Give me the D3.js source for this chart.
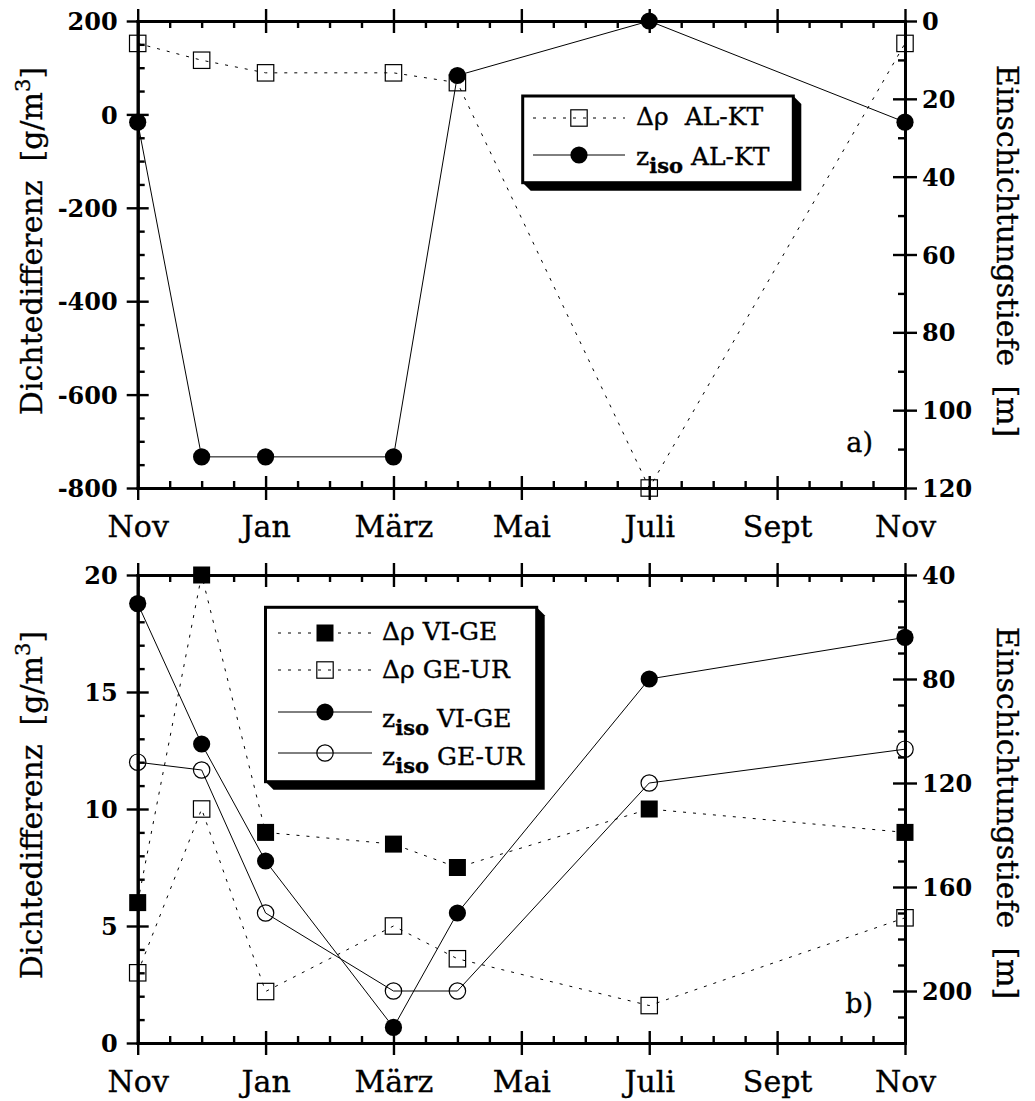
<!DOCTYPE html>
<html>
<head>
<meta charset="utf-8">
<script src="https://cdn.jsdelivr.net/npm/d3@7"></script>
<style>
  body { margin: 0; background: #fff; }
  text { font-family: "DejaVu Serif", serif; fill: #000; white-space: pre; }
  .heavy { stroke: #000; stroke-width: 0.35px; }
</style>
</head>
<body>
<svg id="chart" width="1035" height="1101"></svg>
<script>
// Months counted from November (0) to the following November (12)
const monthTicks = [0, 2, 4, 6, 8, 10, 12];
const monthLabels = ["Nov", "Jan", "März", "Mai", "Juli", "Sept", "Nov"];
const sampleMonths = [0, 1, 2, 4, 5, 8, 12];

// Panel a): AL-KT
const rhoALKT = [152, 116, 89, 89, 68, -800, 152];     // Dichtedifferenz [g/m3]
const zisoALKT = [26, 112, 112, 112, 14, 0, 26];        // Einschichtungstiefe [m]

// Panel b): VI-GE and GE-UR
const rhoVIGE = [6, 20, 9, 8.5, 7.5, 10, 9];
const rhoGEUR = [3, 10, 2.2, 5, 3.6, 1.6, 5.35];
const zisoVIGE = [51, 105, 150, 214, 170, 80, 64];
const zisoGEUR = [112, 115, 170, 200, 200, 120, 107];

const leftTicksA = [-800, -600, -400, -200, 0, 200];
const rightTicksA = [0, 20, 40, 60, 80, 100, 120];
const leftTicksB = [0, 5, 10, 15, 20];
const rightTicksB = [40, 80, 120, 160, 200];

const svg = d3.select("#chart");
const X0 = 137.7, X1 = 905;
const x = d3.scaleLinear().domain([0, 12]).range([X0, X1]);
const plain = d => String(d);   // hyphen-minus, as in the printed figure

function styleAxis(g) {
  g.select(".domain").attr("stroke", "#000").attr("stroke-width", 3).attr("stroke-linecap", "square");
  g.selectAll(".tick line").attr("stroke", "#000").attr("stroke-width", 2.4);
}

function minorTicks(lo, hi, step, majors) {
  return d3.range(lo, hi + step / 2, step).filter(v => !majors.some(m => Math.abs(m - v) < 1e-9));
}

function drawMarker(g, type, cx, cy) {
  if (type === "filledSquare") {
    g.append("rect").attr("x", cx - 8.5).attr("y", cy - 8.5).attr("width", 17).attr("height", 17).attr("fill", "#000");
  } else if (type === "openSquare") {
    g.append("rect").attr("x", cx - 8.2).attr("y", cy - 8.2).attr("width", 16.4).attr("height", 16.4)
      .attr("fill", "none").attr("stroke", "#000").attr("stroke-width", 1.2);
  } else if (type === "filledCircle") {
    g.append("circle").attr("cx", cx).attr("cy", cy).attr("r", 8.6).attr("fill", "#000");
  } else {
    g.append("circle").attr("cx", cx).attr("cy", cy).attr("r", 8.2).attr("fill", "none")
      .attr("stroke", "#000").attr("stroke-width", 1.2);
  }
}

function drawSeries(g, values, yScale, type, dashed) {
  const pts = sampleMonths.map((m, i) => [x(m), yScale(values[i])]);
  g.append("path").attr("d", d3.line()(pts)).attr("fill", "none").attr("stroke", "#000")
    .attr("stroke-width", 1).attr("stroke-dasharray", dashed ? "3,7" : null);
  pts.forEach(p => drawMarker(g, type, p[0], p[1]));
}

function drawPanel(cfg) {
  const g = svg.append("g");
  const yL = d3.scaleLinear().domain(cfg.leftDomain).range([cfg.bottom, cfg.top]);
  const yR = d3.scaleLinear().domain(cfg.rightDomain).range([cfg.top, cfg.bottom]);
  const xMinor = minorTicks(0, 12, 0.5, monthTicks);

  // bottom axis with month names
  const gb = g.append("g").attr("transform", `translate(0,${cfg.bottom})`);
  gb.call(d3.axisBottom(x).tickValues(monthTicks).tickSize(12).tickSizeOuter(0)
    .tickFormat((d, i) => monthLabels[i]));
  gb.selectAll(".tick line").attr("y1", -12);
  gb.selectAll(".tick text").attr("y", 49).attr("dy", 0).attr("class", "heavy")
    .style("font-family", "DejaVu Serif").style("font-size", "30px");
  styleAxis(gb);
  const gbm = g.append("g").attr("transform", `translate(0,${cfg.bottom})`);
  gbm.call(d3.axisBottom(x).tickValues(xMinor).tickSize(-7).tickSizeOuter(0).tickFormat(""));
  styleAxis(gbm);

  // top axis
  const gt = g.append("g").attr("transform", `translate(0,${cfg.top})`);
  gt.call(d3.axisTop(x).tickValues(monthTicks).tickSize(12).tickSizeOuter(0).tickFormat(""));
  gt.selectAll(".tick line").attr("y1", 12);
  styleAxis(gt);
  const gtm = g.append("g").attr("transform", `translate(0,${cfg.top})`);
  gtm.call(d3.axisTop(x).tickValues(xMinor).tickSize(-7).tickSizeOuter(0).tickFormat(""));
  styleAxis(gtm);

  // left axis: Dichtedifferenz
  const gl = g.append("g").attr("transform", `translate(${X0},0)`);
  gl.call(d3.axisLeft(yL).tickValues(cfg.leftTicks).tickSize(11).tickSizeOuter(0).tickPadding(9).tickFormat(plain));
  gl.selectAll(".tick line").attr("x1", 11);
  gl.selectAll(".tick text").style("font-family", "DejaVu Serif").style("font-size", "24px")
    .style("font-weight", "bold").attr("dy", "0.36em");
  styleAxis(gl);
  const glm = g.append("g").attr("transform", `translate(${X0},0)`);
  glm.call(d3.axisLeft(yL).tickValues(minorTicks(cfg.leftDomain[0], cfg.leftDomain[1], cfg.leftMinor, cfg.leftTicks))
    .tickSize(-7).tickSizeOuter(0).tickFormat(""));
  styleAxis(glm);

  // right axis: Einschichtungstiefe
  const gr = g.append("g").attr("transform", `translate(${X1},0)`);
  gr.call(d3.axisRight(yR).tickValues(cfg.rightTicks).tickSize(12).tickSizeOuter(0).tickPadding(5).tickFormat(plain));
  gr.selectAll(".tick line").attr("x1", -12);
  gr.selectAll(".tick text").style("font-family", "DejaVu Serif").style("font-size", "24px")
    .style("font-weight", "bold").attr("dy", "0.36em");
  styleAxis(gr);
  const grm = g.append("g").attr("transform", `translate(${X1},0)`);
  grm.call(d3.axisRight(yR).tickValues(minorTicks(cfg.rightDomain[0], cfg.rightDomain[1], 10, cfg.rightTicks))
    .tickSize(-7).tickSizeOuter(0).tickFormat(""));
  styleAxis(grm);

  // axis titles
  const lt = g.append("text").attr("class", "heavy").attr("transform", `translate(42,${cfg.leftTitleY}) rotate(-90)`)
    .attr("text-anchor", "middle").style("font-size", "30px");
  lt.append("tspan").text("Dichtedifferenz  [g/m");
  lt.append("tspan").attr("dy", -12).style("font-size", "21px").text("3");
  lt.append("tspan").attr("dy", 12).text("]");
  g.append("text").attr("class", "heavy").attr("transform", `translate(997,${cfg.rightTitleY}) rotate(90)`)
    .attr("text-anchor", "middle").style("font-size", "30px").text("Einschichtungstiefe  [m]");

  // panel letter
  g.append("text").attr("class", "heavy").attr("x", 873).attr("y", cfg.letterY).attr("text-anchor", "end")
    .style("font-size", "27px").text(cfg.letter);

  // data
  cfg.series.forEach(s => drawSeries(g, s.values, s.axis === "left" ? yL : yR, s.marker, s.dashed));

  // legend box with extruded shadow
  const L = cfg.legend;
  const lg = g.append("g");
  const d = 8;
  lg.append("path").attr("fill", "#000")
    .attr("d", `M${L.x0},${L.y1} L${L.x0 + d},${L.y1 + d} L${L.x1 + d},${L.y1 + d} L${L.x1 + d},${L.y0 + d} L${L.x1},${L.y0} Z`);
  lg.append("rect").attr("x", L.x0).attr("y", L.y0).attr("width", L.x1 - L.x0).attr("height", L.y1 - L.y0)
    .attr("fill", "#fff").attr("stroke", "#000").attr("stroke-width", 3);
  cfg.series.forEach((s, i) => {
    const row = L.rows[i];
    lg.append("line").attr("x1", L.lineX0).attr("x2", L.lineX1).attr("y1", row.line).attr("y2", row.line)
      .attr("stroke", "#000").attr("stroke-width", 1).attr("stroke-dasharray", s.dashed ? "3,7" : null);
    drawMarker(lg, s.marker, (L.lineX0 + L.lineX1) / 2, row.line);
    const t = lg.append("text").attr("class", "heavy").attr("x", L.textX).attr("y", row.text).style("font-size", "25px");
    if (s.kind === "rho") {
      t.text(s.label);
    } else {
      t.append("tspan").text("z");
      t.append("tspan").attr("dy", 8).style("font-size", "21px").style("font-weight", "bold").text("iso");
      t.append("tspan").attr("dy", -8).text(s.label);
    }
  });
}

drawPanel({
  top: 21, bottom: 488,
  leftDomain: [-800, 200], leftTicks: leftTicksA, leftMinor: 50,
  rightDomain: [0, 120], rightTicks: rightTicksA,
  leftTitleY: 241, rightTitleY: 251,
  letter: "a)", letterY: 452,
  series: [
    { values: rhoALKT, axis: "left", marker: "openSquare", dashed: true, kind: "rho", label: "\u0394\u03c1  AL-KT" },
    { values: zisoALKT, axis: "right", marker: "filledCircle", dashed: false, kind: "z", label: " AL-KT" }
  ],
  legend: {
    x0: 522.7, y0: 96, x1: 793.3, y1: 182.7, lineX0: 533, lineX1: 625, textX: 636,
    rows: [{ line: 118, text: 125 }, { line: 155, text: 165 }]
  }
});

drawPanel({
  top: 575, bottom: 1043,
  leftDomain: [0, 20], leftTicks: leftTicksB, leftMinor: 1,
  rightDomain: [40, 220], rightTicks: rightTicksB,
  leftTitleY: 805, rightTitleY: 813,
  letter: "b)", letterY: 1013,
  series: [
    { values: rhoVIGE, axis: "left", marker: "filledSquare", dashed: true, kind: "rho", label: "\u0394\u03c1 VI-GE" },
    { values: rhoGEUR, axis: "left", marker: "openSquare", dashed: true, kind: "rho", label: "\u0394\u03c1 GE-UR" },
    { values: zisoVIGE, axis: "right", marker: "filledCircle", dashed: false, kind: "z", label: " VI-GE" },
    { values: zisoGEUR, axis: "right", marker: "openCircle", dashed: false, kind: "z", label: " GE-UR" }
  ],
  legend: {
    x0: 265.5, y0: 607.3, x1: 536.7, y1: 781.7, lineX0: 278, lineX1: 372, textX: 382,
    rows: [{ line: 633, text: 640 }, { line: 670, text: 678 }, { line: 712, text: 727 }, { line: 753, text: 765 }]
  }
});
</script>
</body>
</html>
